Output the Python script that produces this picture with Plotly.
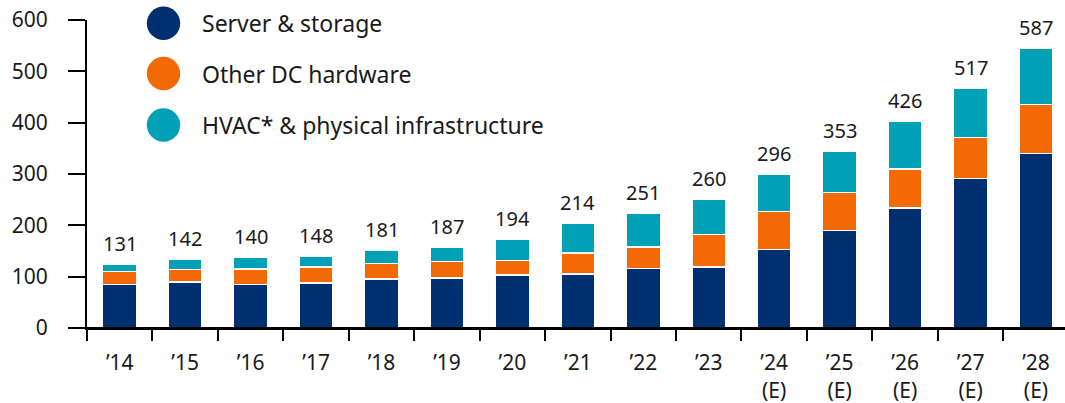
import plotly.graph_objects as go

# Data-centre spend by component, 2014-2028 (E)
years = ["’14", "’15", "’16", "’17", "’18", "’19", "’20", "’21", "’22", "’23",
         "’24<br>(E)", "’25<br>(E)", "’26<br>(E)", "’27<br>(E)", "’28<br>(E)"]
server_storage = [85, 90, 84.5, 88, 95, 97, 103, 105, 116, 119, 153, 190, 234, 291, 340]
other_dc_hw = [25, 24, 30, 30.5, 30.5, 32.5, 28.5, 41.5, 41.5, 63.5, 74, 74, 75.5, 80.5, 95.5]
hvac_infra = [14, 20, 23, 21.5, 26, 28, 41, 58, 66, 68, 72.5, 80.5, 93.5, 95.5, 110]
total_labels = [131, 142, 140, 148, 181, 187, 194, 214, 251, 260, 296, 353, 426, 517, 587]

series_names = ["Server & storage", "Other DC hardware", "HVAC* & physical infrastructure"]
colors = ["#00306F", "#F36A05", "#00A0B7"]

FONT = "Noto Sans"
TEXT = "#1a1a1a"
W, H = 1065, 403
ML, MR, MT, MB = 87, 0, 20, 75

fig = go.Figure()
for name, vals, col in zip(series_names, [server_storage, other_dc_hw, hvac_infra], colors):
    fig.add_trace(go.Bar(
        x=years, y=vals, name=name, marker=dict(color=col, line=dict(color="white", width=1.5)),
        showlegend=False, hoverinfo="skip",
    ))

pw = W - ML - MR
ph = H - MT - MB


def px(xp):
    return (xp - ML) / pw


def py(yp):
    return (H - MB - yp) / ph


annotations = []
# value labels sit just above each stack
stack_top = [a + b + c for a, b, c in zip(server_storage, other_dc_hw, hvac_infra)]
for cat, top, lab in zip(years, stack_top, total_labels):
    annotations.append(dict(x=cat, y=top, xref="x", yref="y", text=str(lab),
                            showarrow=False, xanchor="center", yanchor="bottom", yshift=5,
                            font=dict(family=FONT, size=20, color=TEXT)))

shapes = [
    # x-axis baseline, extended slightly left of the y-axis
    dict(type="line", xref="paper", yref="paper", x0=px(69), x1=1, y0=0, y1=0,
         line=dict(color="black", width=2), layer="above"),
]
legend_y = [23.3, 73.5, 125]
for name, col, ly in zip(series_names, colors, legend_y):
    shapes.append(dict(type="circle", xref="paper", yref="paper",
                       xsizemode="pixel", ysizemode="pixel",
                       xanchor=px(163.5), yanchor=py(ly),
                       x0=-16.7, x1=16.7, y0=-16.7, y1=16.7,
                       fillcolor=col, line=dict(width=0)))
    annotations.append(dict(xref="paper", yref="paper", x=px(200), y=py(ly),
                            xanchor="left", yanchor="middle", showarrow=False,
                            text=name, font=dict(family=FONT, size=23, color=TEXT)))

fig.update_layout(
    width=W, height=H, margin=dict(l=ML, r=MR, t=MT, b=MB),
    barmode="stack", bargap=0.48,
    paper_bgcolor="white", plot_bgcolor="white",
    font=dict(family=FONT, size=20, color=TEXT),
    shapes=shapes, annotations=annotations,
    xaxis=dict(
        type="category", range=[-0.5, 14.443], showgrid=False, zeroline=False,
        showline=True, linecolor="black", linewidth=2,
        ticks="outside", tickson="boundaries", ticklen=11, tickwidth=2, tickcolor="black",
        tickfont=dict(family=FONT, size=21, color=TEXT), ticklabelstandoff=15,
    ),
    yaxis=dict(
        range=[0, 600], dtick=100, showgrid=False, zeroline=False,
        showline=True, linecolor="black", linewidth=2,
        ticks="outside", ticklen=17, tickwidth=2, tickcolor="black",
        tickfont=dict(family=FONT, size=21, color=TEXT), ticklabelstandoff=16,
    ),
)

fig.write_html("out.html")
